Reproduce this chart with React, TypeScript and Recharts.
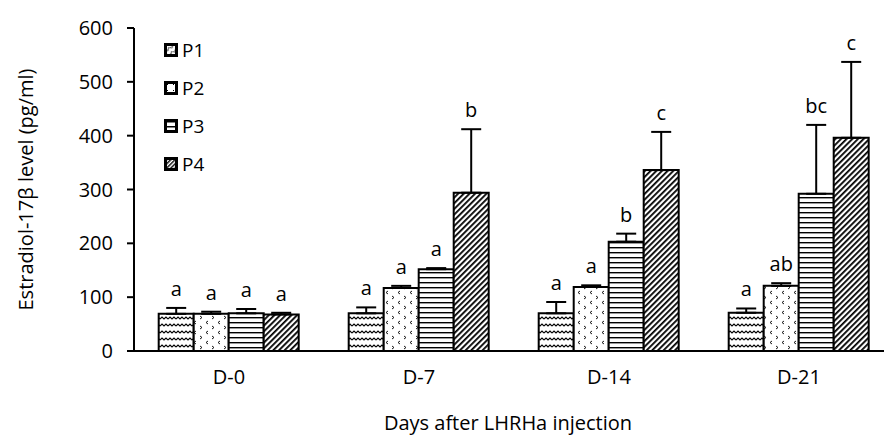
import React from "react";
import { BarChart, Bar, XAxis, YAxis, ErrorBar, LabelList } from "recharts";

const days = ["D-0", "D-7", "D-14", "D-21"];

const p1 = [69, 70, 70, 71];
const p2 = [69, 117, 119, 121];
const p3 = [70, 152, 203, 292];
const p4 = [68, 294, 336, 396];

const p1Err = [11, 11, 21, 8];
const p2Err = [4, 4, 3, 5];
const p3Err = [8, 2, 15, 128];
const p4Err = [3, 118, 71, 141];

const p1Sig = ["a", "a", "a", "a"];
const p2Sig = ["a", "a", "a", "ab"];
const p3Sig = ["a", "a", "b", "bc"];
const p4Sig = ["a", "b", "c", "c"];

const yTicks = [0, 100, 200, 300, 400, 500, 600];
const edgeTicks = [0, 1, 2, 3, 4];

const FONT = "'Open Sans', 'Liberation Sans', Arial, sans-serif";

const series = [
  { key: "p1", name: "P1", fill: "url(#pat1)", legendFill: "url(#lpat1)", vals: p1, err: p1Err },
  { key: "p2", name: "P2", fill: "url(#pat2)", legendFill: "url(#lpat2)", vals: p2, err: p2Err },
  { key: "p3", name: "P3", fill: "url(#pat3)", legendFill: "url(#lpat3)", vals: p3, err: p3Err },
  { key: "p4", name: "P4", fill: "url(#pat4)", legendFill: "url(#lpat4)", vals: p4, err: p4Err },
];

const data = days.map((day, i) => ({
  day,
  p1: p1[i],
  p2: p2[i],
  p3: p3[i],
  p4: p4[i],
  p1e: [0, p1Err[i]],
  p2e: [0, p2Err[i]],
  p3e: [0, p3Err[i]],
  p4e: [0, p4Err[i]],
  p1s: p1Sig[i],
  p2s: p2Sig[i],
  p3s: p3Sig[i],
  p4s: p4Sig[i],
}));

const Patterns = () => (
  <defs>
    <pattern id="pat1" width="8" height="7" patternUnits="userSpaceOnUse">
      <rect width="8" height="7" fill="#fff" />
      <path d="M0 4 L2 2 L4 4 L6 2 L8 4" fill="none" stroke="#000" strokeWidth="1.1" />
    </pattern>
    <pattern id="pat2" width="12" height="10" patternUnits="userSpaceOnUse">
      <rect width="12" height="10" fill="#fff" />
      <path d="M4 1 L2 2.5 L4 4" fill="none" stroke="#000" strokeWidth="0.9" />
      <path d="M8 6 L10 7.5 L8 9" fill="none" stroke="#000" strokeWidth="0.9" />
    </pattern>
    <pattern id="pat3" width="6" height="5" patternUnits="userSpaceOnUse">
      <rect width="6" height="5" fill="#fff" />
      <rect y="2" width="6" height="1.4" fill="#000" />
    </pattern>
    <pattern id="pat4" width="4" height="4" patternUnits="userSpaceOnUse" patternTransform="rotate(45)">
      <rect width="4" height="4" fill="#fff" />
      <rect width="1.8" height="4" fill="#000" />
    </pattern>
    <pattern id="lpat1" width="5" height="5" patternUnits="userSpaceOnUse" patternTransform="rotate(-35)">
      <rect width="5" height="5" fill="#fff" />
      <path d="M0 2.5 Q1.25 0.5 2.5 2.5 T5 2.5" fill="none" stroke="#000" strokeWidth="1" />
    </pattern>
    <pattern id="lpat2" width="6" height="6" patternUnits="userSpaceOnUse">
      <rect width="6" height="6" fill="#fff" />
      <rect x="3" y="3" width="1" height="1" fill="#000" />
    </pattern>
    <pattern id="lpat3" width="4" height="5" patternUnits="userSpaceOnUse">
      <rect width="4" height="5" fill="#fff" />
      <rect y="2" width="4" height="1.5" fill="#000" />
    </pattern>
    <pattern id="lpat4" width="3" height="3" patternUnits="userSpaceOnUse" patternTransform="rotate(45)">
      <rect width="3" height="3" fill="#fff" />
      <rect width="1.4" height="3" fill="#000" />
    </pattern>
  </defs>
);

// letter sits above the top of the error bar; px per unit taken from the bar itself
const makeSigLabel = (vals: number[], errs: number[]) => (props: any) => {
  const { x, y, width, height, value, index } = props;
  const pxPerUnit = height / vals[index];
  const top = y - errs[index] * pxPerUnit;
  return (
    <text x={x + width / 2} y={top - 12} textAnchor="middle" fontSize={20} fontFamily={FONT} fill="#000">
      {value}
    </text>
  );
};

const LegendBox = () => (
  <div style={{ position: "absolute", left: 164, top: 31, fontFamily: FONT, fontSize: 19, lineHeight: "20px" }}>
    {series.map((s) => (
      <div key={s.key} style={{ display: "flex", alignItems: "center", height: 38 }}>
        <svg width={14} height={14} style={{ marginRight: 4 }}>
          <rect x={1.5} y={1.5} width={11} height={11} fill={s.legendFill} stroke="#000" strokeWidth={3} />
        </svg>
        <span>{s.name}</span>
      </div>
    ))}
  </div>
);

const YLabel = (props: any) => {
  const vb = props.viewBox;
  const cx = 25;
  const cy = vb.y + vb.height / 2;
  return (
    <text x={cx} y={cy} transform={`rotate(-90 ${cx} ${cy})`} textAnchor="middle" dominantBaseline="central" fontSize={20} fontFamily={FONT} fill="#000">
      Estradiol-17β level (pg/ml)
    </text>
  );
};

export default function App() {
  return (
    <div style={{ position: "absolute", left: 0, top: 0, width: 884, height: 441, overflow: "hidden", background: "#fff" }}>
      <BarChart
        width={900}
        height={441}
        data={data}
        margin={{ top: 28, right: 6, bottom: 18, left: 0 }}
        barCategoryGap="13%"
        barGap={0}
        style={{ fontFamily: FONT }}
      >
        <Patterns />
        <XAxis
          xAxisId="edge"
          type="number"
          domain={[0, 4]}
          ticks={edgeTicks}
          height={0}
          axisLine={false}
          tickLine={{ stroke: "#000", strokeWidth: 2 }}
          tickSize={7}
          tickFormatter={() => ""}
          allowDataOverflow
        />
        <XAxis
          dataKey="day"
          height={72}
          axisLine={{ stroke: "#000", strokeWidth: 2 }}
          tickLine={false}
          tickSize={0}
          tickMargin={19}
          tick={{ fill: "#000", fontSize: 20, fontFamily: FONT }}
          label={{ value: "Days after LHRHa injection", position: "insideBottom", offset: -7, fill: "#000", fontSize: 20, fontFamily: FONT, dx: -6 }}
        />
        <YAxis
          width={134}
          domain={[0, 600]}
          ticks={yTicks}
          interval={0}
          axisLine={{ stroke: "#000", strokeWidth: 2 }}
          tickLine={{ stroke: "#000", strokeWidth: 2 }}
          tickSize={7}
          tickMargin={14}
          tick={{ fill: "#000", fontSize: 20, fontFamily: FONT }}
          label={<YLabel />}
        />
        {series.map((s) => (
          <Bar key={s.key} dataKey={s.key} name={s.name} fill={s.fill} stroke="#000" strokeWidth={2} isAnimationActive={false}>
            <ErrorBar dataKey={`${s.key}e`} direction="y" width={10} stroke="#000" strokeWidth={2} />
            <LabelList dataKey={`${s.key}s`} content={makeSigLabel(s.vals, s.err)} />
          </Bar>
        ))}
      </BarChart>
      <LegendBox />
    </div>
  );
}
